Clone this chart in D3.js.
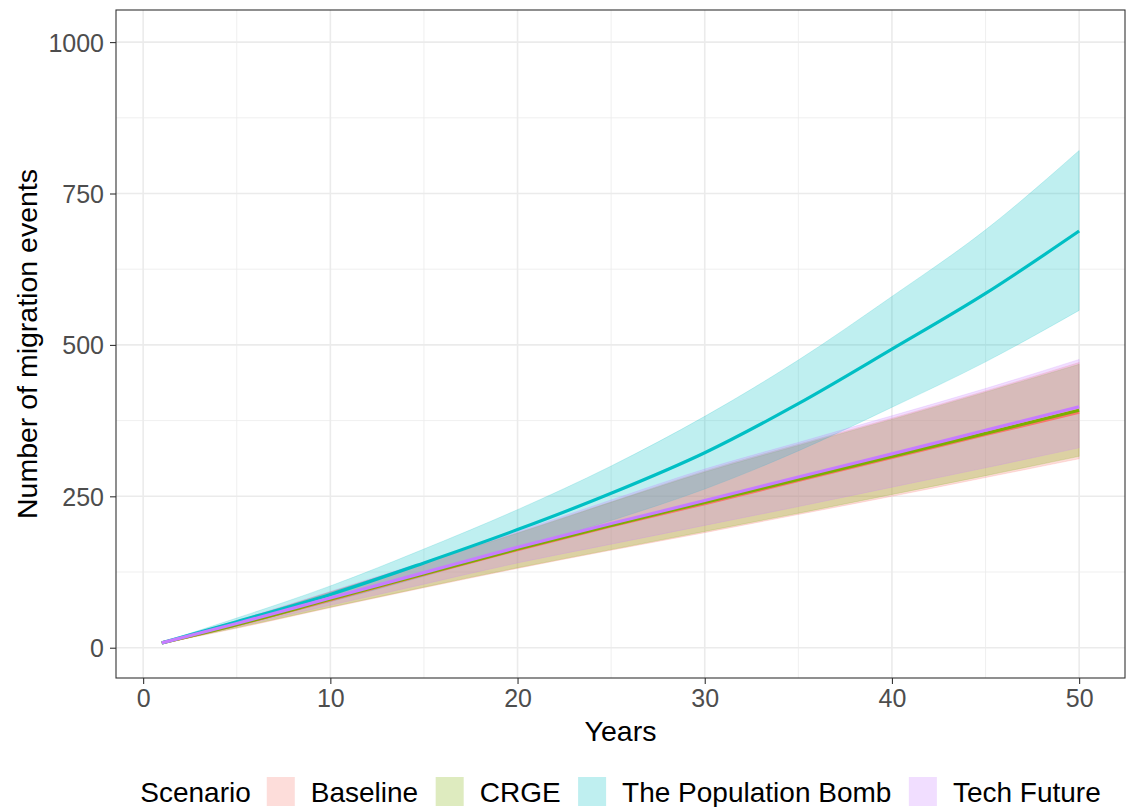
<!DOCTYPE html>
<html>
<head>
<meta charset="utf-8">
<script src="https://cdn.jsdelivr.net/npm/d3@7"></script>
<style>
  body { margin: 0; background: #fff; }
  svg { display: block; font-family: "Liberation Sans", Arial, sans-serif; }
</style>
</head>
<body>
<svg id="chart" width="1126" height="807"></svg>
<script>
// Simulated migration events by scenario: mean with lower/upper bounds
const years = [1, 5, 10, 15, 20, 25, 30, 35, 40, 45, 50];
const scenarios = ["Baseline", "CRGE", "The Population Bomb", "Tech Future"];
const colors = ["#F8766D", "#7CAE00", "#00BFC4", "#C77CFF"];

const baselineMean  = [8, 38, 79, 121, 162, 201, 238, 276, 314, 352, 389];
const baselineLow   = [7, 32, 66, 99, 131, 161, 190, 220, 250, 281, 312];
const baselineHigh  = [9, 44, 92, 141, 190, 241, 292, 336, 379, 424, 471];

const crgeMean      = [8, 38, 80, 122, 163, 202, 240, 278, 316, 354, 392];
const crgeLow       = [7, 33, 67, 100, 132, 162, 192, 222, 253, 284, 316];
const crgeHigh      = [9, 44, 92, 140, 189, 240, 290, 334, 377, 422, 468];

const bombMean      = [8, 43, 88, 140, 195, 255, 322, 403, 493, 585, 688];
const bombLow       = [7, 37, 76, 118, 163, 210, 262, 325, 397, 472, 557];
const bombHigh      = [9, 49, 102, 163, 228, 300, 382, 475, 580, 690, 821];

const techMean      = [8, 40, 82, 124, 166, 205, 243, 282, 320, 359, 398];
const techLow       = [7, 35, 70, 105, 140, 171, 202, 233, 265, 297, 330];
const techHigh      = [9, 45, 93, 142, 192, 244, 295, 339, 383, 428, 476];

const meanSeries = [baselineMean, crgeMean, bombMean, techMean];
const lowSeries  = [baselineLow, crgeLow, bombLow, techLow];
const highSeries = [baselineHigh, crgeHigh, bombHigh, techHigh];

const xTicks = [0, 10, 20, 30, 40, 50];
const xMinor = [5, 15, 25, 35, 45];
const yTicks = [0, 250, 500, 750, 1000];
const yMinor = [125, 375, 625, 875];

const panel = { left: 116, right: 1125, top: 10, bottom: 678 };
const svg = d3.select("#chart");

const x = d3.scaleLinear().domain([-1.45, 52.45]).range([panel.left, panel.right]);
const y = d3.scaleLinear().domain([-50, 1053]).range([panel.bottom, panel.top]);

// grid
const grid = svg.append("g");
grid.selectAll(".xmin").data(xMinor).join("line")
  .attr("x1", d => x(d)).attr("x2", d => x(d))
  .attr("y1", panel.top).attr("y2", panel.bottom)
  .attr("stroke", "#EBEBEB").attr("stroke-width", 0.8);
grid.selectAll(".ymin").data(yMinor).join("line")
  .attr("y1", d => y(d)).attr("y2", d => y(d))
  .attr("x1", panel.left).attr("x2", panel.right)
  .attr("stroke", "#EBEBEB").attr("stroke-width", 0.8);
grid.selectAll(".xmaj").data(xTicks).join("line")
  .attr("x1", d => x(d)).attr("x2", d => x(d))
  .attr("y1", panel.top).attr("y2", panel.bottom)
  .attr("stroke", "#EBEBEB").attr("stroke-width", 1.6);
grid.selectAll(".ymaj").data(yTicks).join("line")
  .attr("y1", d => y(d)).attr("y2", d => y(d))
  .attr("x1", panel.left).attr("x2", panel.right)
  .attr("stroke", "#EBEBEB").attr("stroke-width", 1.6);

// ribbons
const area = d3.area()
  .x(d => x(d.year)).y0(d => y(d.lo)).y1(d => y(d.hi))
  .curve(d3.curveMonotoneX);
const line = d3.line()
  .x(d => x(d.year)).y(d => y(d.v))
  .curve(d3.curveMonotoneX);

scenarios.forEach((s, i) => {
  const rows = years.map((yr, j) => ({ year: yr, lo: lowSeries[i][j], hi: highSeries[i][j] }));
  svg.append("path").datum(rows)
    .attr("d", area)
    .attr("fill", colors[i]).attr("fill-opacity", 0.25)
    .attr("stroke", colors[i]).attr("stroke-opacity", 0.18).attr("stroke-width", 1);
});

scenarios.forEach((s, i) => {
  const rows = years.map((yr, j) => ({ year: yr, v: meanSeries[i][j] }));
  svg.append("path").datum(rows)
    .attr("d", line)
    .attr("fill", "none")
    .attr("stroke", colors[i]).attr("stroke-width", 3.2)
    .attr("stroke-linejoin", "round");
});

// panel border
svg.append("rect")
  .attr("x", panel.left).attr("y", panel.top)
  .attr("width", panel.right - panel.left).attr("height", panel.bottom - panel.top)
  .attr("fill", "none").attr("stroke", "#333333").attr("stroke-width", 1.1);

// axes
const xAxis = svg.append("g").attr("transform", `translate(0,${panel.bottom})`)
  .call(d3.axisBottom(x).tickValues(xTicks).tickSize(6).tickPadding(5).tickFormat(d3.format("d")));
const yAxis = svg.append("g").attr("transform", `translate(${panel.left},0)`)
  .call(d3.axisLeft(y).tickValues(yTicks).tickSize(6).tickPadding(6).tickFormat(d3.format("d")));
[xAxis, yAxis].forEach(g => {
  g.select(".domain").remove();
  g.selectAll(".tick line").attr("stroke", "#333333").attr("stroke-width", 1.1);
  g.selectAll(".tick text").attr("fill", "#4D4D4D")
    .style("font-family", "'Liberation Sans', Arial, sans-serif").style("font-size", "25px");
});
yAxis.selectAll(".tick text").attr("dy", "0.36em");

// axis titles
svg.append("text")
  .attr("x", (panel.left + panel.right) / 2).attr("y", 741)
  .attr("text-anchor", "middle").attr("fill", "#000")
  .style("font-size", "28.5px").text("Years");
svg.append("text")
  .attr("transform", `translate(37,${(panel.top + panel.bottom) / 2}) rotate(-90)`)
  .attr("text-anchor", "middle").attr("fill", "#000")
  .style("font-size", "28.5px").text("Number of migration events");

// legend
const legend = svg.append("g");
const legendY = 802;
const title = legend.append("text").attr("x", 0).attr("y", legendY)
  .style("font-size", "28px").attr("fill", "#000").text("Scenario");
let cx = title.node().getComputedTextLength() + 16;
scenarios.forEach((s, i) => {
  legend.append("rect")
    .attr("x", cx).attr("y", 777).attr("width", 28).attr("height", 29)
    .attr("fill", colors[i]).attr("fill-opacity", 0.25);
  cx += 28 + 16;
  const t = legend.append("text").attr("x", cx).attr("y", legendY)
    .style("font-size", "28px").attr("fill", "#000").text(s);
  cx += t.node().getComputedTextLength() + (i < scenarios.length - 1 ? 17.5 : 0);
});
const legendWidth = cx;
legend.attr("transform", `translate(${(panel.left + panel.right) / 2 - legendWidth / 2},0)`);
</script>
</body>
</html>
